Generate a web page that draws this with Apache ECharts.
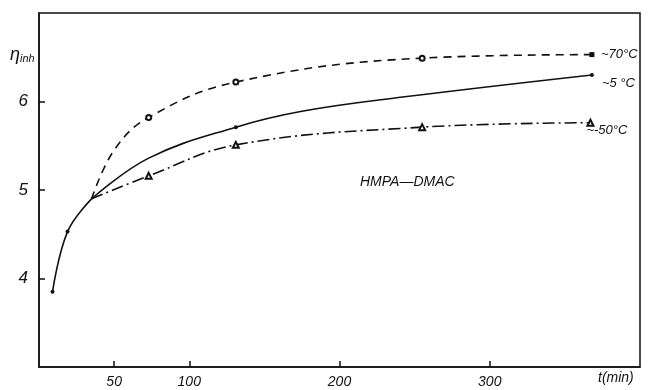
<!DOCTYPE html>
<html>
<head>
<meta charset="utf-8">
<script src="https://cdn.jsdelivr.net/npm/echarts@6/dist/echarts.min.js"></script>
<style>
  html, body { margin: 0; padding: 0; background: #fff; }
  #chart { width: 660px; height: 390px; }
</style>
</head>
<body>
<div id="chart"></div>
<script>
// values: t in minutes, inherent viscosity
const xTicks = [50, 100, 200, 300]
const yTicks = [4, 5, 6]

// shared early part of the curve
const tTrunk = [9, 19, 35]
const etaTrunk = [3.85, 4.53, 4.90]
const markTrunk = [1, 1, 0]

// ~70°C, dashed
const t70 = [35, 50, 73, 131, 255, 368]
const eta70 = [4.90, 5.45, 5.82, 6.22, 6.49, 6.53]
const mark70 = [0, 0, 1, 1, 1, 2]

// ~5°C, solid
const t5 = [35, 73, 131, 175, 242, 368]
const eta5 = [4.90, 5.36, 5.71, 5.89, 6.05, 6.30]
const mark5 = [0, 0, 1, 0, 0, 1]

// ~-50°C, dash-dot
const tM50 = [35, 73, 131, 255, 367]
const etaM50 = [4.90, 5.16, 5.51, 5.71, 5.76]
const markM50 = [0, 1, 1, 1, 1]

const ink = '#111'
const font = 'Liberation Sans'

function points(ts, etas, marks, symbol, size, fill) {
  return ts.map((t, i) => {
    const p = { value: [t, etas[i]] }
    if (!marks[i]) {
      p.symbol = 'none'
    } else if (marks[i] === 2) {
      p.symbol = 'rect'
      p.symbolSize = 5
      p.itemStyle = { color: ink }
    } else {
      p.symbol = symbol
      p.symbolSize = size
      p.itemStyle = { color: fill }
    }
    return p
  })
}

const chart = echarts.init(document.getElementById('chart'), null, { renderer: 'canvas' })

chart.setOption({
  animation: false,
  backgroundColor: '#fff',
  grid: {
    left: 39, right: 20, top: 13, bottom: 23,
    show: true, borderColor: ink, borderWidth: 1.5
  },
  xAxis: {
    type: 'value',
    min: 0, max: 400,
    axisLine: { lineStyle: { color: ink, width: 1.5 } },
    axisTick: { inside: true, length: 6, customValues: xTicks, lineStyle: { color: ink, width: 1.5 } },
    axisLabel: {
      customValues: xTicks, margin: 8,
      color: ink, fontSize: 14, fontStyle: 'italic', fontFamily: font
    },
    splitLine: { show: false }
  },
  yAxis: {
    type: 'value',
    min: 3, max: 7,
    axisLine: { show: true, lineStyle: { color: ink, width: 1.5 } },
    axisTick: { show: true, inside: true, length: 6, customValues: yTicks, lineStyle: { color: ink, width: 1.5 } },
    axisLabel: {
      customValues: yTicks, margin: 11,
      color: ink, fontSize: 17, fontStyle: 'italic', fontFamily: font
    },
    splitLine: { show: false }
  },
  graphic: [
    {
      type: 'text', left: 10, top: 46,
      style: {
        text: '{a|η}{b|inh}',
        rich: {
          a: { fontSize: 18, fontStyle: 'italic', fontFamily: font, fill: ink },
          b: { fontSize: 11, fontStyle: 'italic', fontFamily: font, fill: ink, padding: [8, 0, 0, 0] }
        }
      }
    },
    {
      type: 'text', left: 598, top: 371,
      style: { text: 't(min)', fontSize: 14, fontStyle: 'italic', fontFamily: font, fill: ink }
    },
    {
      type: 'text', left: 360, top: 175,
      style: { text: 'HMPA—DMAC', fontSize: 14, fontStyle: 'italic', fontFamily: font, fill: ink }
    }
  ],
  series: [
    {
      name: 'trunk', type: 'line', smooth: 0.4,
      data: points(tTrunk, etaTrunk, markTrunk, 'circle', 4, ink),
      lineStyle: { color: ink, width: 1.6 }
    },
    {
      name: '~70°C', type: 'line', smooth: 0.4,
      data: points(t70, eta70, mark70, 'emptyCircle', 5, ink),
      lineStyle: { color: ink, width: 1.6, type: [8, 6] },
      endLabel: { show: true, formatter: '~70°C', offset: [1, 0], color: ink, fontSize: 13, fontStyle: 'italic', fontFamily: font }
    },
    {
      name: '~5°C', type: 'line', smooth: 0.4,
      data: points(t5, eta5, mark5, 'circle', 4, ink),
      lineStyle: { color: ink, width: 1.6 },
      endLabel: { show: true, formatter: '~5 °C', offset: [2, 8], color: ink, fontSize: 13, fontStyle: 'italic', fontFamily: font }
    },
    {
      name: '~-50°C', type: 'line', smooth: 0.4,
      data: points(tM50, etaM50, markM50, 'emptyTriangle', 6, ink),
      lineStyle: { color: ink, width: 1.6, type: [12, 4, 2, 4] },
      endLabel: { show: true, formatter: '~-50°C', offset: [-12, 8], color: ink, fontSize: 13, fontStyle: 'italic', fontFamily: font }
    }
  ]
})
</script>
</body>
</html>
